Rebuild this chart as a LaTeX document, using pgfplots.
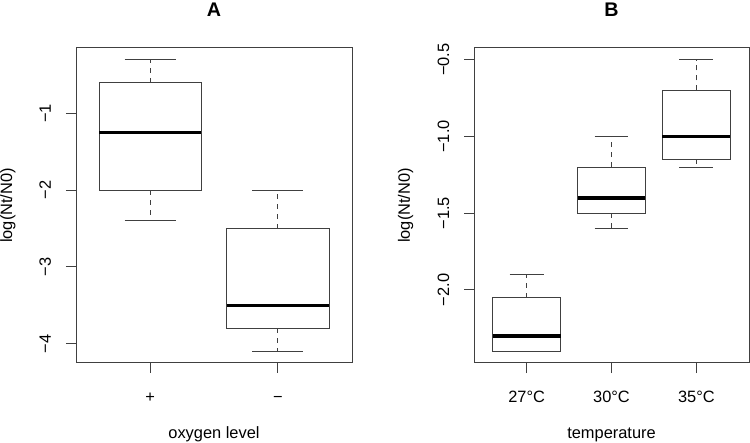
\documentclass[border=0pt]{standalone}
\usepackage{fontspec}
\setmainfont{Liberation Sans}
\usepackage{pgfplots}
\pgfplotsset{compat=1.18}
\usepgfplotslibrary{statistics}

\definecolor{FrameGray}{HTML}{404040}

% R-style boxplot panel
\pgfplotsset{
  rpanel/.style={
    scale only axis,
    height=315bp,
    axis line style={FrameGray, line width=1bp},
    tick style={FrameGray, line width=1bp},
    tick align=outside,
    major tick length=10bp,
    xtick pos=left, ytick pos=left,
    minor tick num=0,
    font=\fontsize{16.4bp}{19bp}\selectfont,
    tick label style={font=\fontsize{16.4bp}{19bp}\selectfont},
    xticklabel style={anchor=base, yshift=-29.3bp},
    yticklabel style={rotate=90, anchor=base, yshift=15bp},
    title style={at={(axis description cs:0.5,1)}, anchor=base, yshift=26bp,
                 font=\bfseries\fontsize{19.7bp}{22bp}\selectfont},
    xlabel style={at={(axis description cs:0.5,0)}, anchor=base, yshift=-75.3bp},
    ylabel style={anchor=center},
    boxplot/draw direction=y,
    boxplot/every box/.style={draw=FrameGray, line width=1bp, fill=white},
    boxplot/every median/.style={black, line width=3.5bp},
    boxplot/every whisker/.style={draw=FrameGray, line width=1bp},
    boxplot/draw/lower whisker/.code={%
      \draw[/pgfplots/boxplot/every whisker/.try, dash pattern=on 5bp off 5bp]
        (boxplot box cs:\pgfplotsboxplotvalue{lower quartile},0.5) --
        (boxplot box cs:\pgfplotsboxplotvalue{lower whisker},0.5);
      \draw[/pgfplots/boxplot/every whisker/.try]
        (boxplot whisker cs:\pgfplotsboxplotvalue{lower whisker},0) --
        (boxplot whisker cs:\pgfplotsboxplotvalue{lower whisker},1);
    },
    boxplot/draw/upper whisker/.code={%
      \draw[/pgfplots/boxplot/every whisker/.try, dash pattern=on 5bp off 5bp]
        (boxplot box cs:\pgfplotsboxplotvalue{upper quartile},0.5) --
        (boxplot box cs:\pgfplotsboxplotvalue{upper whisker},0.5);
      \draw[/pgfplots/boxplot/every whisker/.try]
        (boxplot whisker cs:\pgfplotsboxplotvalue{upper whisker},0) --
        (boxplot whisker cs:\pgfplotsboxplotvalue{upper whisker},1);
    },
  },
  rbox/.style={FrameGray, line width=1bp, boxplot prepared={box extend=0.8, whisker extend=0.4, #1}},
}

\begin{document}
\begin{tikzpicture}
\useasboundingbox (0,0) rectangle (750bp,443bp);

% panel A: oxygen level
\begin{axis}[
  rpanel,
  at={(76bp,80bp)}, anchor=south west,
  width=276bp,
  xmin=0.42, xmax=2.58,
  ymin=-4.252, ymax=-0.148,
  xtick={1,2}, xticklabels={+,−},
  ytick={-4,-3,-2,-1}, yticklabels={−4,−3,−2,−1},
  title={A},
  xlabel={oxygen level},
  ylabel={log(Nt/N0)},
  ylabel style={at={(axis description cs:-0.2464,0.5)}},
]
  \addplot[rbox={draw position=1, lower whisker=-2.4, lower quartile=-2.0, median=-1.25, upper quartile=-0.6, upper whisker=-0.3}] coordinates {};
  \addplot[rbox={draw position=2, lower whisker=-4.1, lower quartile=-3.8, median=-3.5, upper quartile=-2.5, upper whisker=-2.0}] coordinates {};
\end{axis}

% panel B: temperature
\begin{axis}[
  rpanel,
  at={(474bp,80bp)}, anchor=south west,
  width=275bp,
  xmin=0.38, xmax=3.62,
  ymin=-2.476, ymax=-0.424,
  xtick={1,2,3}, xticklabels={27°C,30°C,35°C},
  ytick={-2,-1.5,-1,-0.5}, yticklabels={−2.0,−1.5,−1.0,−0.5},
  title={B},
  xlabel={temperature},
  ylabel={log(Nt/N0)},
  ylabel style={at={(axis description cs:-0.249,0.5)}},
]
  \addplot[rbox={draw position=1, lower whisker=-2.4, lower quartile=-2.4, median=-2.3, upper quartile=-2.05, upper whisker=-1.9}] coordinates {};
  \addplot[rbox={draw position=2, lower whisker=-1.6, lower quartile=-1.5, median=-1.4, upper quartile=-1.2, upper whisker=-1.0}] coordinates {};
  \addplot[rbox={draw position=3, lower whisker=-1.2, lower quartile=-1.15, median=-1.0, upper quartile=-0.7, upper whisker=-0.5}] coordinates {};
\end{axis}
\end{tikzpicture}
\end{document}
